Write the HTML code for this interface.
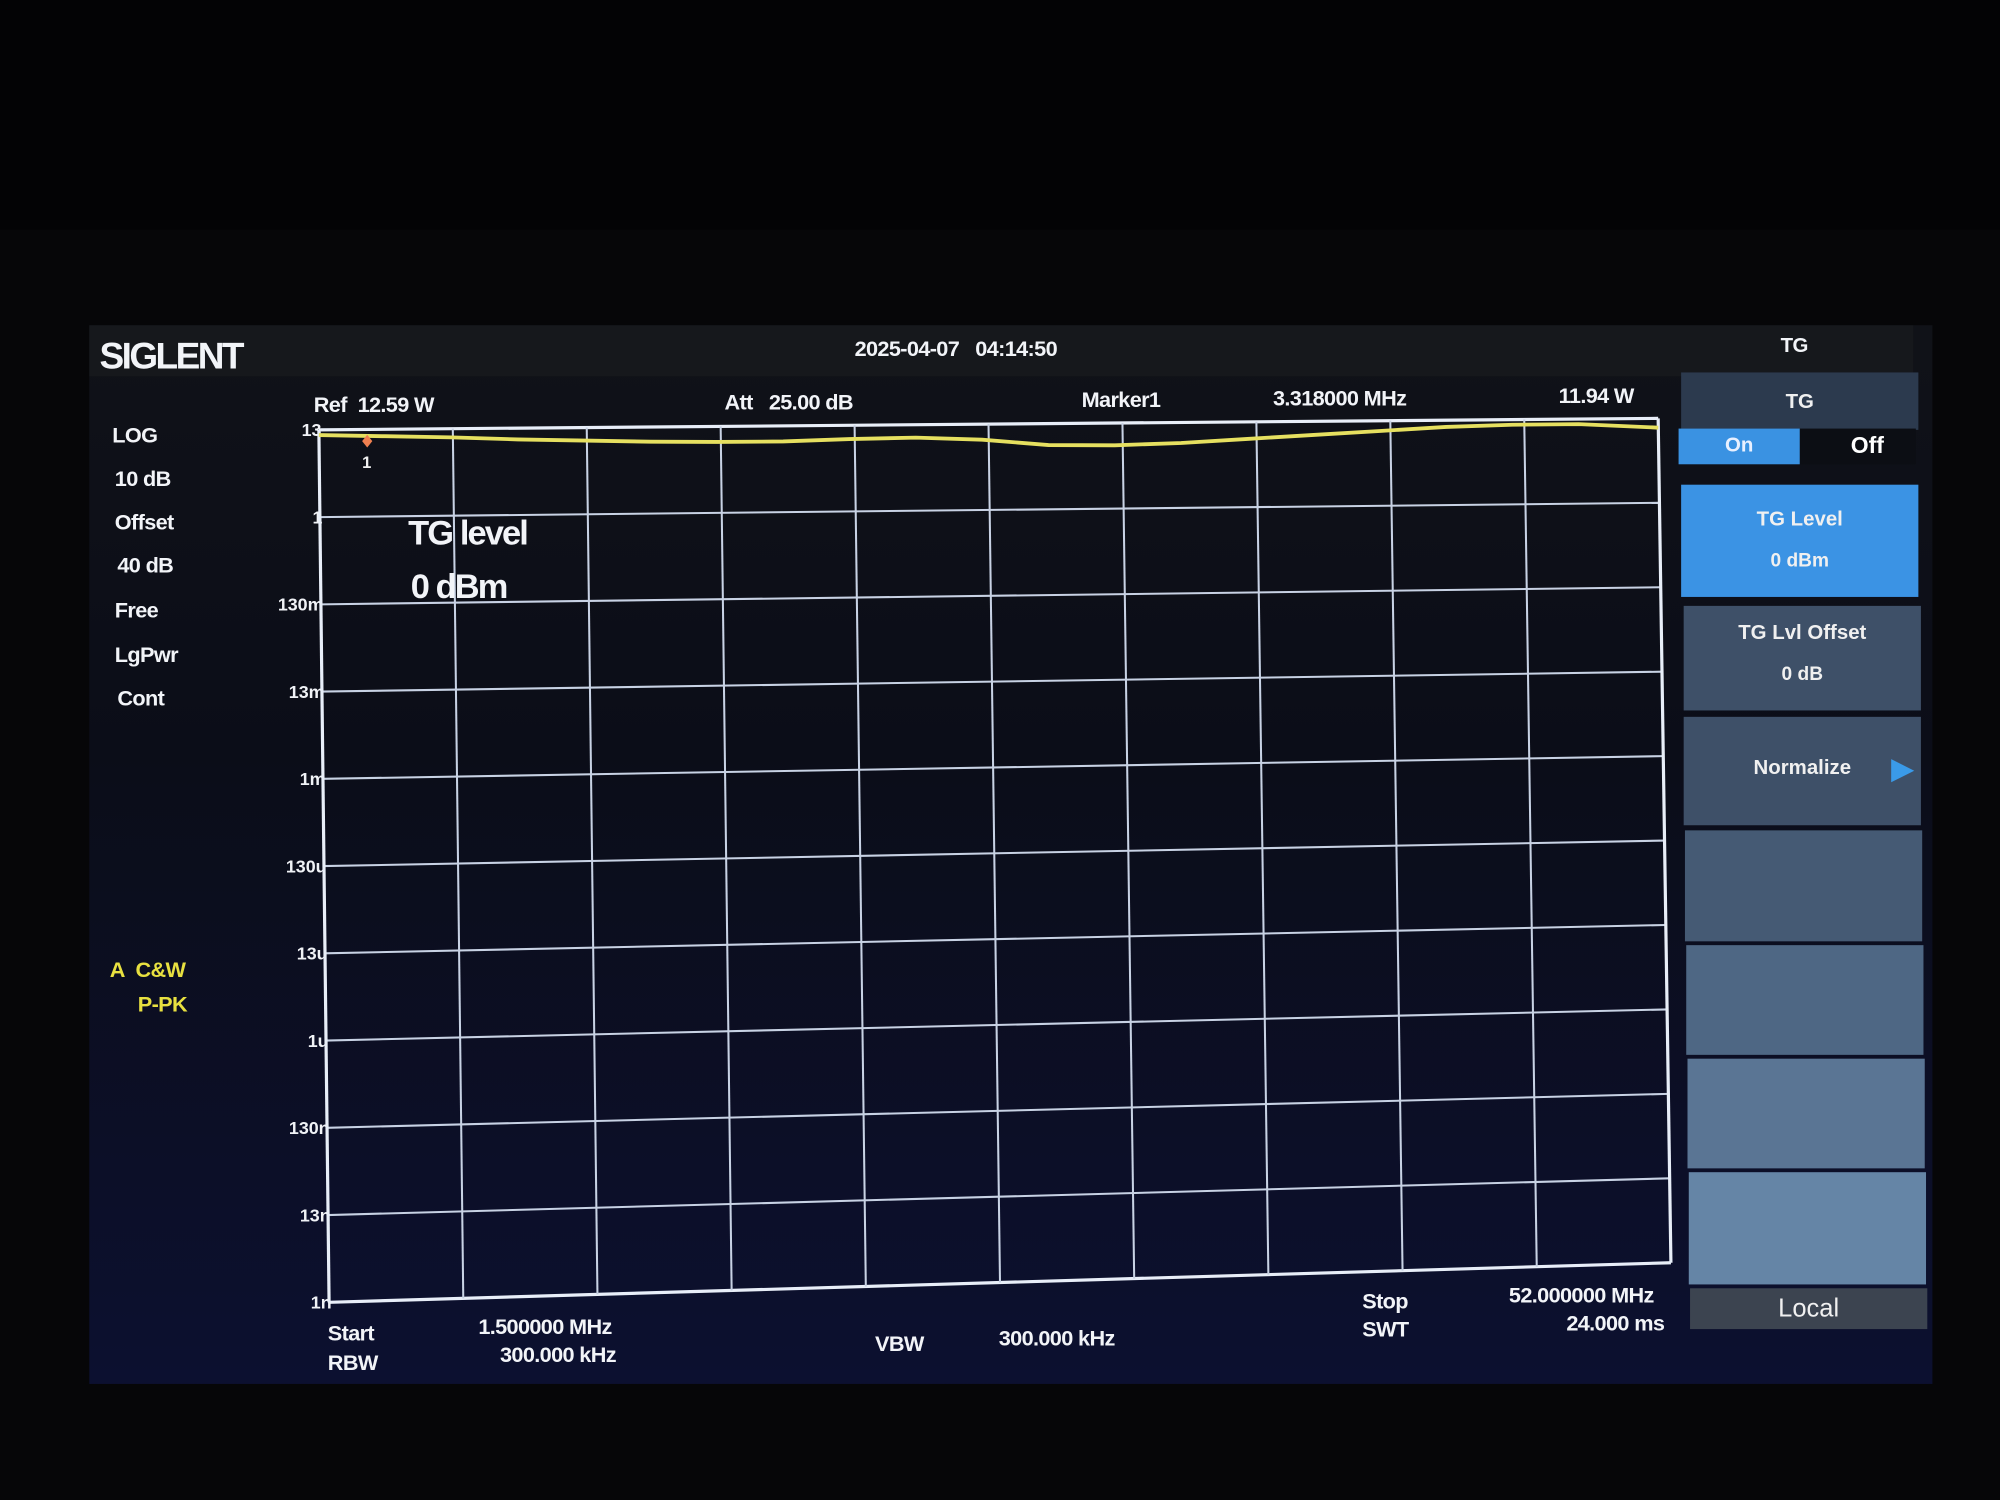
<!DOCTYPE html>
<html><head><meta charset="utf-8">
<style>
html,body{margin:0;padding:0;background:#030305;width:2000px;height:1500px;overflow:hidden;font-family:"Liberation Sans",sans-serif;}
#wrap{position:absolute;left:0;top:0;width:1568px;height:1176px;transform:scale(1.27551);transform-origin:0 0;}
.t{position:absolute;color:#f2f4f8;font-weight:bold;white-space:nowrap;font-size:17px;letter-spacing:-0.5px;}
.y{color:#e8e040;}
.btn{position:absolute;left:1318px;width:186px;background:#3e5068;color:#f0f0f0;font-weight:bold;text-align:center;font-size:16px;}
</style></head>
<body>
<div id="wrap">
<div style="position:absolute;left:0;top:180px;width:1568px;height:996px;background:#060608"></div>
<div style="position:absolute;left:70px;top:255px;width:1445px;height:830px;background:linear-gradient(180deg,#101218 0%,#0b0d18 40%,#0c1030 100%)"></div>
<div style="position:absolute;left:70px;top:255px;width:1430px;height:40px;background:#16181c"></div>
<div class="t" style="left:78px;top:264px;font-size:29px;letter-spacing:-2px;">SIGLENT</div>
<div class="t" style="left:670px;top:264px;">2025-04-07&nbsp;&nbsp;&nbsp;04:14:50</div>
<div class="t" style="left:1396px;top:263px;font-size:16px;">TG</div>

<div class="t" style="left:246px;top:308px;">Ref&nbsp;&nbsp;12.59 W</div>
<div class="t" style="left:568px;top:306px;">Att&nbsp;&nbsp;&nbsp;25.00 dB</div>
<div class="t" style="left:848px;top:304px;">Marker1</div>
<div class="t" style="left:998px;top:303px;">3.318000 MHz</div>
<div class="t" style="left:1222px;top:301px;">11.94 W</div>

<div class="t" style="left:88px;top:332px;">LOG</div>
<div class="t" style="left:90px;top:366px;">10 dB</div>
<div class="t" style="left:90px;top:400px;">Offset</div>
<div class="t" style="left:92px;top:434px;">40 dB</div>
<div class="t" style="left:90px;top:469px;">Free</div>
<div class="t" style="left:90px;top:504px;">LgPwr</div>
<div class="t" style="left:92px;top:538px;">Cont</div>
<div class="t y" style="left:86px;top:751px;">A&nbsp;&nbsp;C&amp;W</div>
<div class="t y" style="left:108px;top:778px;">P-PK</div>

<svg id="chart" style="position:absolute;left:0;top:0" width="1568" height="1176"></svg>

<div class="t" style="left:320px;top:403px;font-size:27px;letter-spacing:-1.5px;">TG level</div>
<div class="t" style="left:322px;top:445px;font-size:27px;letter-spacing:-1.5px;">0 dBm</div>

<div class="t" style="left:257px;top:1036px;">Start</div>
<div class="t" style="left:257px;top:1059px;">RBW</div>
<div class="t" style="left:375px;top:1031px;">1.500000 MHz</div>
<div class="t" style="left:392px;top:1053px;">300.000 kHz</div>
<div class="t" style="left:686px;top:1044px;">VBW</div>
<div class="t" style="left:783px;top:1040px;">300.000 kHz</div>
<div class="t" style="left:1068px;top:1011px;">Stop</div>
<div class="t" style="left:1068px;top:1033px;">SWT</div>
<div class="t" style="left:1183px;top:1006px;">52.000000 MHz</div>
<div class="t" style="left:1228px;top:1028px;">24.000 ms</div>

<div class="btn" style="top:292px;height:45px;line-height:48px;background:#2c3a4e;">TG</div>
<div style="position:absolute;left:1316px;top:336px;width:186px;height:28px;background:#0c0e14;">
 <div style="position:absolute;left:0;top:0;width:95px;height:28px;background:#3a92e2;color:#e8f0ff;text-align:center;line-height:28px;font-weight:bold;font-size:16px;">On</div>
 <div style="position:absolute;left:110px;top:0;width:76px;height:28px;color:#fff;text-align:center;line-height:26px;font-weight:bold;font-size:18px;">Off</div>
</div>
<div class="btn" style="top:380px;height:88px;background:#3b93e4;line-height:32px;padding-top:12px;box-sizing:border-box;">TG Level<br><span style="font-size:15px">0 dBm</span></div>
<div class="btn" style="top:475px;height:82px;line-height:32px;padding-top:6px;box-sizing:border-box;left:1320px;">TG Lvl Offset<br><span style="font-size:15px">0 dB</span></div>
<div class="btn" style="top:562px;height:85px;line-height:82px;left:1320px;">Normalize<span style="position:absolute;right:6px;color:#3a9ae8;font-size:22px;">&#9654;</span></div>
<div class="btn" style="top:651px;height:87px;left:1321px;background:#455a74;"></div>
<div class="btn" style="top:741px;height:86px;left:1322px;background:#4e6784;"></div>
<div class="btn" style="top:830px;height:86px;left:1323px;background:#5a7594;"></div>
<div class="btn" style="top:919px;height:88px;left:1324px;background:#6585a6;"></div>
<div class="btn" style="top:1010px;height:32px;line-height:32px;left:1325px;background:#3c4450;font-weight:normal;font-size:20px;">Local</div>
</div>

<script>
const yTickLabels = ["13","1","130m","13m","1m","130u","13u","1u","130n","13n","1n"];
const xDivisions = 10;
// trace: frequency points (MHz) and level below reference (dB)
const traceFreqs = [1.5,4,6.5,9,11.5,14,16.5,19,21.5,24,26.5,29,31.5,34,36.5,39,41.5,44,46.5,49,52];
const traceDbBelowRef = [0.6,0.8,1.0,1.3,1.5,1.7,1.8,1.8,1.6,1.5,1.8,2.5,2.6,2.4,2.0,1.6,1.2,0.8,0.6,0.6,1.1];
const refDb = 0, divDb = 10, nDiv = 10, fStart = 1.5, fStop = 52;

const svg = document.getElementById('chart');
const NS = 'http://www.w3.org/2000/svg';
const TL=[250,337],TR=[1300,328],BL=[258,1021],BR=[1310,990];
function quad(u,v){
  const tx=TL[0]+(TR[0]-TL[0])*u, ty=TL[1]+(TR[1]-TL[1])*u;
  const bx=BL[0]+(BR[0]-BL[0])*u, by=BL[1]+(BR[1]-BL[1])*u;
  return [tx+(bx-tx)*v, ty+(by-ty)*v];
}
function xScale(f){return (f-fStart)/(fStop-fStart);}
function yScale(db){return (refDb-db)/(divDb*nDiv);}
function line(a,b,name,stroke,w){
  const l=document.createElementNS(NS,'line');
  l.setAttribute('x1',a[0]);l.setAttribute('y1',a[1]);l.setAttribute('x2',b[0]);l.setAttribute('y2',b[1]);
  l.setAttribute('stroke',stroke);l.setAttribute('stroke-width',w);
  
  
  svg.appendChild(l);
}
for(let i=0;i<=nDiv;i++){
  const v=i/nDiv;
  line(quad(0,v),quad(1,v),'h-gridline',i===0||i===nDiv?'#e8eef8':'#c8d2e4',i===0||i===nDiv?2.5:1.6);
  const p=quad(0,v);
  const t=document.createElementNS(NS,'text');
  t.setAttribute('x',p[0]+2);t.setAttribute('y',p[1]+5);t.setAttribute('text-anchor','end');
  t.setAttribute('fill','#f0f2f6');t.setAttribute('font-size','14');t.setAttribute('font-weight','bold');
  t.setAttribute('font-family','Liberation Sans, sans-serif');
  t.textContent=yTickLabels[i];
  
  
  svg.appendChild(t);
}
for(let j=0;j<=xDivisions;j++){
  const u=j/xDivisions;
  line(quad(u,0),quad(u,1),'v-gridline',j===0||j===xDivisions?'#e8eef8':'#c8d2e4',j===0||j===xDivisions?2.5:1.6);
}
const pts=traceFreqs.map((f,i)=>quad(xScale(f),yScale(traceDbBelowRef[i]*-1+refDb-0)*-1+0));
// note: yScale expects dB level; level = refDb - below
const pts2=traceFreqs.map((f,i)=>quad(xScale(f),yScale(refDb-traceDbBelowRef[i])));
const pl=document.createElementNS(NS,'polyline');
pl.setAttribute('points',pts2.map(p=>p[0].toFixed(1)+','+p[1].toFixed(1)).join(' '));
pl.setAttribute('fill','none');pl.setAttribute('stroke','#e6e060');pl.setAttribute('stroke-width','3');


svg.appendChild(pl);
const mk=quad(xScale(3.318),0.012);
const d=document.createElementNS(NS,'path');
d.setAttribute('d',`M${mk[0]},${mk[1]-4} l4,5 l-4,5 l-4,-5z`);
d.setAttribute('fill','#f08050');


svg.appendChild(d);
const mt=document.createElementNS(NS,'text');
mt.setAttribute('x',mk[0]-4);mt.setAttribute('y',mk[1]+22);mt.setAttribute('fill','#f0f0f0');
mt.setAttribute('font-size','13');mt.setAttribute('font-weight','bold');mt.setAttribute('font-family','Liberation Sans, sans-serif');
mt.textContent='1';


svg.appendChild(mt);
</script>
</body></html>
